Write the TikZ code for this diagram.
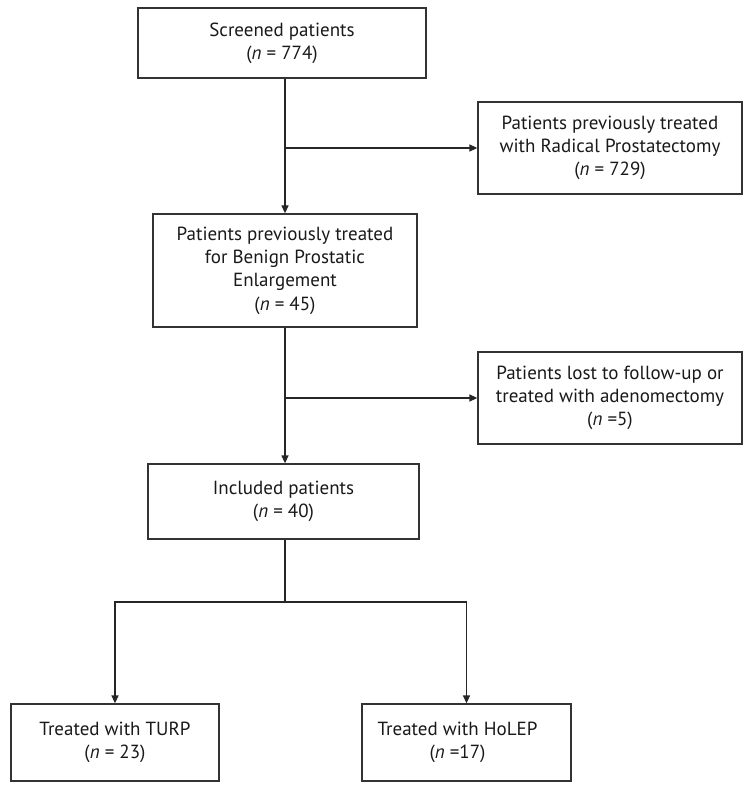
\documentclass[tikz,border=0pt]{standalone}
\usepackage{fontspec}
\setmainfont{PT Sans}
\usetikzlibrary{arrows.meta}
\begin{document}
\begin{tikzpicture}[x=1pt,y=-1pt,
  txt/.style={align=center, font=\fontsize{19}{23.3}\selectfont, text=black!90, inner sep=0pt},
  box/.style={txt, draw=black!80, line width=1.3pt},
  conn/.style={draw=black!85, line width=1.3pt},
  arr/.style={conn, -{Triangle[length=8pt,width=7pt]}}]
\useasboundingbox (0,0) rectangle (753,791);

\node[box, minimum width=288pt, minimum height=70pt] (screen) at (282,43)
  {Screened patients\\(\textit{n} = 774)};
\node[box, minimum width=264pt, minimum height=92pt] (rp) at (610,148)
  {Patients previously treated\\with Radical Prostatectomy\\(\textit{n} = 729)};
\node[box, minimum width=264pt, minimum height=113pt] (bph) at (285,270.5)
  {Patients previously treated\\for Benign Prostatic\\Enlargement\\(\textit{n} = 45)};
\node[box, minimum width=264pt, minimum height=92pt] (lost) at (610,398)
  {Patients lost to follow-up or\\treated with adenomectomy\\(\textit{n} =5)};
\node[box, minimum width=271pt, minimum height=75pt] (inc) at (283.5,501.5)
  {Included patients\\(\textit{n} = 40)};
\node[box, minimum width=208pt, minimum height=77pt] (turp) at (115,742.5)
  {Treated with TURP\\(\textit{n} = 23)};
\node[box, minimum width=209pt, minimum height=77pt] (holep) at (466.5,742.5) {};
\node[txt] (holeptext) at ([xshift=-9pt]holep.center)
  {Treated with HoLEP\\(\textit{n} =17)};

% connectors
\draw[arr] (screen.south -| bph.north) -- (bph.north);
\coordinate (j1) at (bph.north |- rp.west);
\draw[arr] (j1) -- (rp.west);

\draw[arr] (bph.south) -- (bph.south |- inc.north);
\coordinate (j2) at (bph.south |- lost.west);
\draw[arr] (j2) -- (lost.west);

\coordinate (split) at (285,602);
\draw[conn] (inc.south -| split) -- (split);
\draw[arr] (split) -| (turp.north);
\draw[arr] (split) -| (holep.north);
\end{tikzpicture}
\end{document}
